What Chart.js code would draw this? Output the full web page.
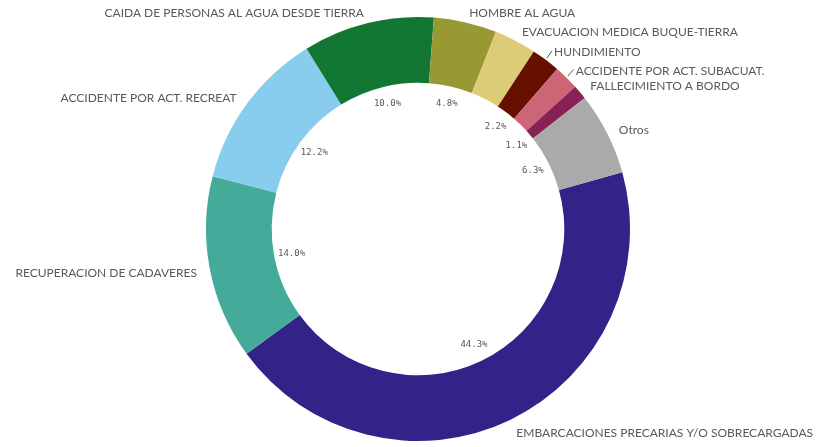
<!DOCTYPE html>
<html>
<head>
<meta charset="utf-8">
<script src="https://cdn.jsdelivr.net/npm/chart.js@4/dist/chart.umd.min.js"></script>
<style>
  html, body { margin: 0; padding: 0; background: #ffffff; }
  #wrap { width: 819px; height: 447px; }
</style>
</head>
<body>
<div id="wrap"><canvas id="c" width="819" height="447"></canvas></div>
<script>
const categories = [
  'EMBARCACIONES PRECARIAS Y/O SOBRECARGADAS',
  'RECUPERACION DE CADAVERES',
  'ACCIDENTE POR ACT. RECREAT',
  'CAIDA DE PERSONAS AL AGUA DESDE TIERRA',
  'HOMBRE AL AGUA',
  'EVACUACION MEDICA BUQUE-TIERRA',
  'HUNDIMIENTO',
  'ACCIDENTE POR ACT. SUBACUAT.',
  'FALLECIMIENTO A BORDO',
  'Otros'
];
const values = [44.3, 14.0, 12.2, 10.0, 4.8, 3.2, 2.2, 1.9, 1.1, 6.3];
const percentLabels = ['44.3%', '14.0%', '12.2%', '10.0%', '4.8%', '', '2.2%', '', '1.1%', '6.3%'];
const colors = ['#332288', '#44aa99', '#88ccee', '#117733', '#999933', '#ddcc77', '#661100', '#cc6677', '#882255', '#aaaaaa'];

const leaderFor = new Set(['HUNDIMIENTO', 'ACCIDENTE POR ACT. SUBACUAT.']);

const labelPlugin = {
  id: 'sliceLabels',
  afterDatasetsDraw(chart) {
    const ctx = chart.ctx;
    const meta = chart.getDatasetMeta(0);
    ctx.save();
    meta.data.forEach((arc, i) => {
      const p = arc.getProps(['x', 'y', 'startAngle', 'endAngle', 'outerRadius', 'innerRadius'], true);
      const mid = (p.startAngle + p.endAngle) / 2;
      const cx = Math.cos(mid), cy = Math.sin(mid);
      // outer category label
      const name = chart.data.labels[i];
      const rText = p.outerRadius + 12;
      const tx = p.x + cx * rText;
      const ty = p.y + cy * rText + 2;
      ctx.font = '12px Lato, "Open Sans", sans-serif';
      ctx.fillStyle = '#595959';
      ctx.textBaseline = 'middle';
      ctx.textAlign = cx >= 0 ? 'left' : 'right';
      ctx.fillText(name, tx + (cx >= 0 ? 1 : -1), ty);
      if (leaderFor.has(name)) {
        ctx.strokeStyle = '#595959';
        ctx.lineWidth = 1;
        ctx.beginPath();
        ctx.moveTo(p.x + cx * (p.outerRadius + 2), p.y + cy * (p.outerRadius + 2));
        ctx.lineTo(p.x + cx * (p.outerRadius + 10), p.y + cy * (p.outerRadius + 10) - 1);
        ctx.stroke();
      }
      // inner percent label
      const pl = percentLabels[i];
      if (pl) {
        const rIn = p.innerRadius - 17.5;
        ctx.font = '9px "DejaVu Sans Mono", monospace';
        ctx.fillStyle = '#595959';
        ctx.textAlign = 'center';
        ctx.textBaseline = 'middle';
        ctx.fillText(pl, p.x + cx * rIn, p.y + cy * rIn);
      }
    });
    ctx.restore();
  }
};

new Chart(document.getElementById('c'), {
  type: 'doughnut',
  data: {
    labels: categories,
    datasets: [{
      data: values,
      backgroundColor: colors,
      borderWidth: 0,
      hoverOffset: 0
    }]
  },
  options: {
    responsive: false,
    animation: false,
    devicePixelRatio: 1,
    rotation: 74.5,
    cutout: '69%',
    layout: { padding: { left: 17, right: 0, top: 17, bottom: 6 } },
    plugins: {
      legend: { display: false },
      tooltip: { enabled: false }
    }
  },
  plugins: [labelPlugin]
});
</script>
</body>
</html>
